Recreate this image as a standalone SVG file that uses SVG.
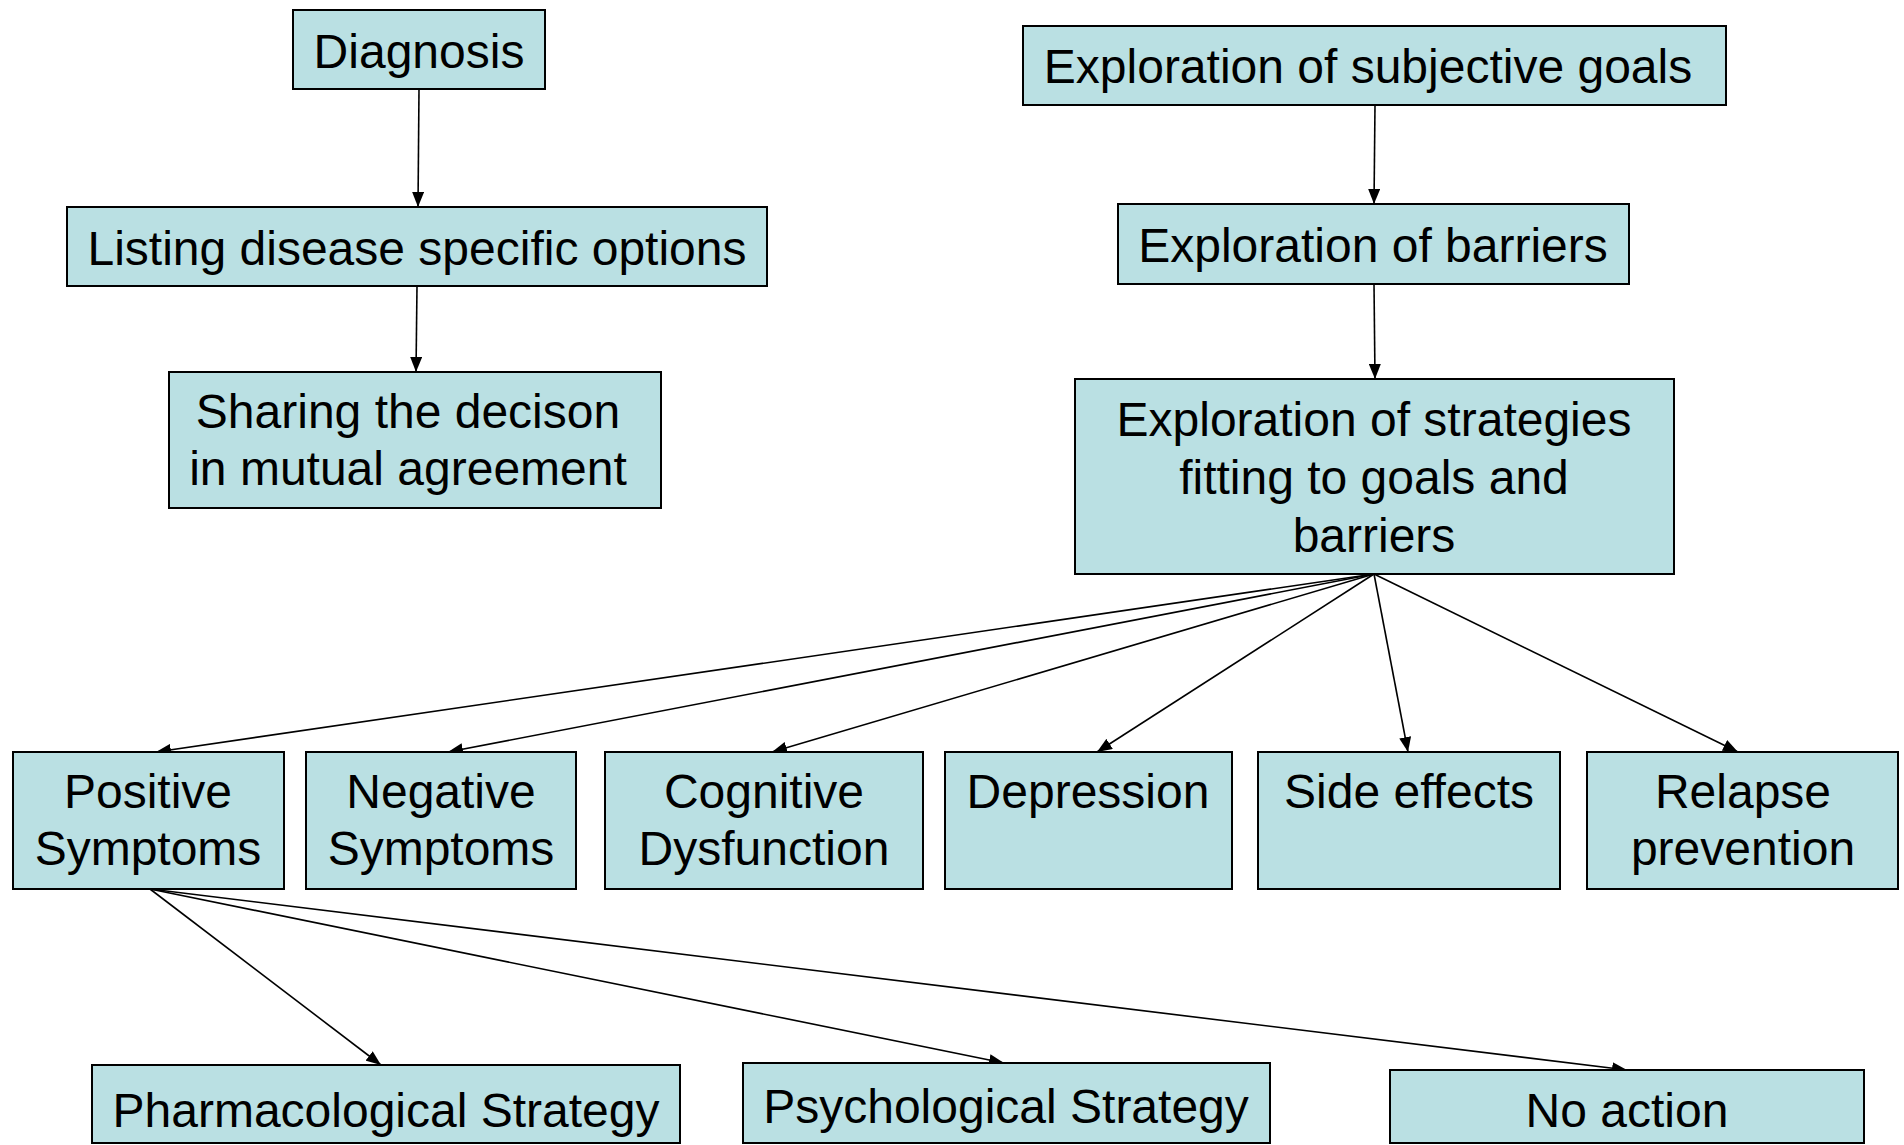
<svg xmlns="http://www.w3.org/2000/svg" width="1904" height="1145" viewBox="0 0 1904 1145">
<style>
.box{fill:#BAE0E3;stroke:#000;stroke-width:2}
.t{font-family:"Liberation Sans",Arial,sans-serif;font-size:48px;fill:#000;text-anchor:middle}
.c{stroke:#000;stroke-width:1.6;fill:none;marker-end:url(#ah)}
</style>
<defs>
<marker id="ah" markerUnits="userSpaceOnUse" markerWidth="16" markerHeight="12" refX="15" refY="6" orient="auto">
<path d="M0,0 L15,6 L0,12 z" fill="#000"/>
</marker>
</defs>
<rect width="1904" height="1145" fill="#fff"/>
<g id="connectors">
<line class="c" x1="419" y1="89" x2="418" y2="207"/>
<line class="c" x1="417" y1="286" x2="416" y2="372"/>
<line class="c" x1="1375" y1="105" x2="1374" y2="204"/>
<line class="c" x1="1374" y1="284" x2="1375" y2="379"/>
<line class="c" x1="1374" y1="574" x2="156" y2="752"/>
<line class="c" x1="1374" y1="574" x2="448" y2="752"/>
<line class="c" x1="1374" y1="574" x2="772" y2="752"/>
<line class="c" x1="1374" y1="574" x2="1097" y2="752"/>
<line class="c" x1="1374" y1="574" x2="1408" y2="752"/>
<line class="c" x1="1374" y1="574" x2="1738" y2="752"/>
<line class="c" x1="150" y1="889" x2="381" y2="1065"/>
<line class="c" x1="150" y1="889" x2="1004" y2="1063"/>
<line class="c" x1="150" y1="889" x2="1627" y2="1070"/>
</g>
<g id="diagnosis"><rect class="box" x="293" y="10" width="252" height="79"/><text class="t" x="419" y="68">Diagnosis</text></g>
<g id="listing"><rect class="box" x="67" y="207" width="700" height="79"/><text class="t" x="417" y="265">Listing disease specific options</text></g>
<g id="sharing"><rect class="box" x="169" y="372" width="492" height="136"/><text class="t" x="408" y="428">Sharing the decison</text><text class="t" x="408" y="485">in mutual agreement</text></g>
<g id="goals"><rect class="box" x="1023" y="26" width="703" height="79"/><text class="t" x="1368" y="83">Exploration of subjective goals</text></g>
<g id="barriers"><rect class="box" x="1118" y="204" width="511" height="80"/><text class="t" x="1373" y="262">Exploration of barriers</text></g>
<g id="strategies"><rect class="box" x="1075" y="379" width="599" height="195"/><text class="t" x="1374" y="436">Exploration of strategies</text><text class="t" x="1374" y="494">fitting to goals and</text><text class="t" x="1374" y="552">barriers</text></g>
<g id="positive"><rect class="box" x="13" y="752" width="271" height="137"/><text class="t" x="148" y="808">Positive</text><text class="t" x="148" y="865">Symptoms</text></g>
<g id="negative"><rect class="box" x="306" y="752" width="270" height="137"/><text class="t" x="441" y="808">Negative</text><text class="t" x="441" y="865">Symptoms</text></g>
<g id="cognitive"><rect class="box" x="605" y="752" width="318" height="137"/><text class="t" x="764" y="808">Cognitive</text><text class="t" x="764" y="865">Dysfunction</text></g>
<g id="depression"><rect class="box" x="945" y="752" width="287" height="137"/><text class="t" x="1088" y="808">Depression</text></g>
<g id="sideeffects"><rect class="box" x="1258" y="752" width="302" height="137"/><text class="t" x="1409" y="808">Side effects</text></g>
<g id="relapse"><rect class="box" x="1587" y="752" width="311" height="137"/><text class="t" x="1743" y="808">Relapse</text><text class="t" x="1743" y="865">prevention</text></g>
<g id="pharmacological"><rect class="box" x="92" y="1065" width="588" height="78"/><text class="t" x="386" y="1127">Pharmacological Strategy</text></g>
<g id="psychological"><rect class="box" x="743" y="1063" width="527" height="80"/><text class="t" x="1006" y="1123">Psychological Strategy</text></g>
<g id="noaction"><rect class="box" x="1390" y="1070" width="474" height="73"/><text class="t" x="1627" y="1127">No action</text></g>
</svg>
